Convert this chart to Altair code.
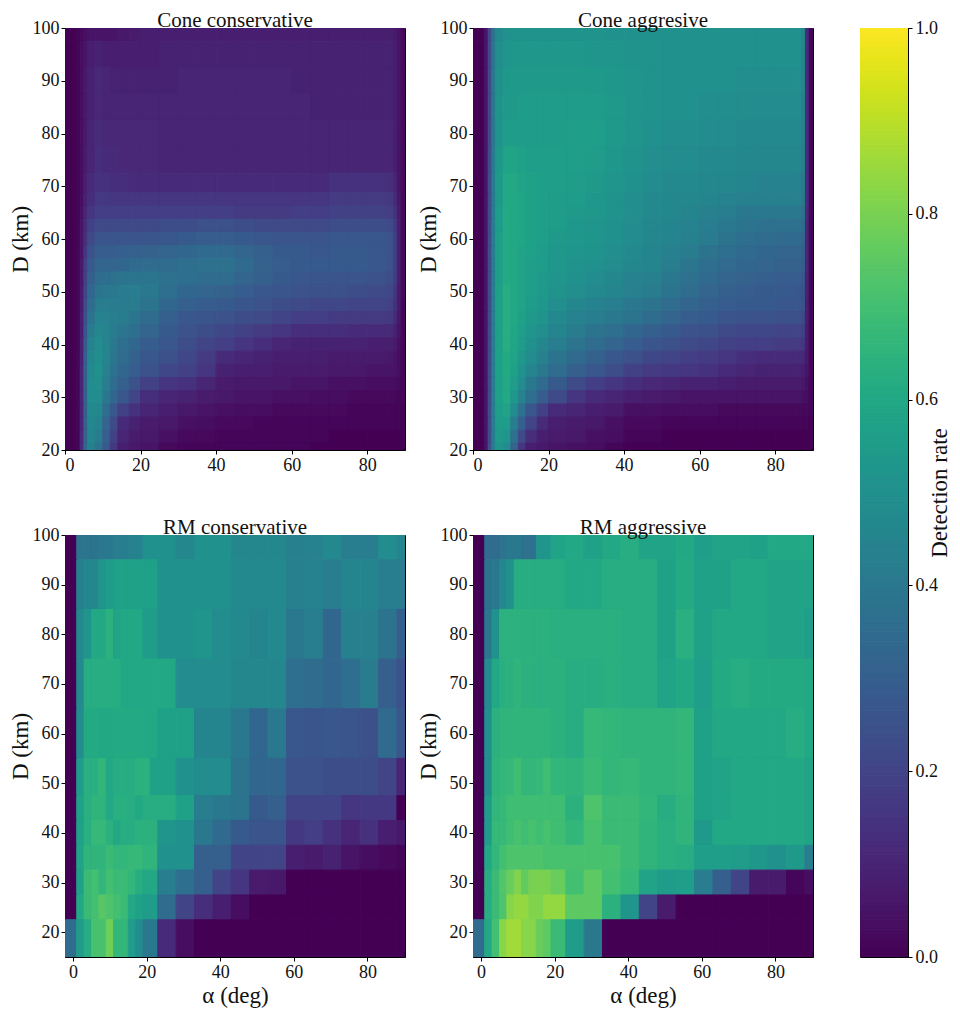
import altair as alt
import pandas as pd

FONT = "Liberation Serif"

# Cone panels: bin edges and values (top row is D = 100)
cone_a = [0,3,4,5,6,8,10,12,14,17,20,25,30,35,40,45,50,55,60,65,70,75,80,85,87,88,89,90]
cone_d = [100,97.5,92.5,87.5,82.5,77.5,72.5,68.75,66.25,63.75,61.25,58.75,56.25,53.75,51.25,48.75,46.25,
          43.75,41.25,38.75,36.25,33.75,31.25,28.75,26.25,23.75,21.25,20]

cone_cons = [
 [0,.01,.02,.04,.05,.05,.05,.05,.06,.07,.08,.08,.08,.08,.08,.08,.08,.08,.08,.08,.08,.08,.08,.08,.07,.05,.02],
 [0,.01,.03,.05,.08,.09,.08,.08,.08,.08,.08,.09,.09,.09,.09,.09,.09,.09,.09,.09,.09,.09,.09,.09,.08,.05,.02],
 [0,.01,.03,.06,.09,.11,.10,.09,.09,.09,.09,.09,.10,.10,.10,.10,.10,.10,.09,.09,.09,.09,.09,.09,.08,.05,.02],
 [0,.01,.03,.06,.09,.11,.10,.10,.10,.10,.10,.10,.10,.10,.10,.10,.10,.10,.10,.09,.09,.09,.09,.09,.08,.05,.02],
 [0,.01,.03,.06,.10,.12,.11,.11,.11,.11,.11,.10,.10,.10,.10,.10,.10,.10,.10,.10,.10,.10,.10,.10,.08,.05,.02],
 [0,.01,.03,.07,.10,.13,.12,.12,.11,.11,.11,.10,.10,.10,.10,.10,.10,.10,.10,.10,.10,.10,.10,.10,.08,.05,.02],
 [0,.01,.03,.08,.12,.14,.14,.13,.13,.12,.12,.12,.12,.12,.12,.12,.12,.12,.12,.12,.14,.14,.14,.13,.10,.05,.02],
 [0,.01,.03,.09,.13,.16,.16,.15,.15,.15,.15,.15,.15,.15,.15,.15,.15,.15,.15,.15,.17,.17,.17,.16,.12,.06,.02],
 [0,.01,.04,.10,.15,.18,.18,.18,.18,.18,.18,.18,.18,.18,.18,.17,.17,.17,.18,.18,.19,.19,.19,.18,.14,.07,.02],
 [0,.01,.05,.12,.19,.22,.22,.22,.22,.22,.22,.23,.23,.24,.24,.23,.22,.22,.22,.22,.23,.23,.23,.22,.16,.08,.02],
 [0,.01,.05,.13,.22,.26,.26,.26,.26,.26,.26,.27,.28,.29,.29,.28,.27,.26,.26,.26,.27,.27,.27,.25,.18,.08,.02],
 [0,.01,.05,.15,.25,.29,.29,.29,.30,.30,.31,.32,.33,.34,.34,.32,.30,.28,.28,.27,.28,.28,.27,.25,.18,.08,.02],
 [0,.01,.06,.18,.28,.32,.32,.32,.33,.34,.35,.35,.36,.37,.37,.34,.31,.29,.28,.28,.28,.28,.27,.25,.18,.08,.02],
 [0,.01,.06,.19,.30,.35,.36,.37,.38,.39,.39,.37,.36,.35,.35,.32,.30,.28,.27,.26,.26,.26,.25,.23,.17,.08,.02],
 [0,.01,.07,.20,.33,.38,.40,.40,.41,.42,.40,.36,.33,.32,.31,.29,.27,.26,.25,.24,.24,.23,.22,.21,.15,.07,.02],
 [0,.01,.07,.22,.35,.41,.42,.41,.41,.41,.38,.33,.30,.29,.28,.26,.25,.23,.22,.21,.21,.20,.20,.19,.14,.07,.01],
 [0,.01,.08,.24,.38,.44,.44,.42,.41,.39,.35,.30,.27,.26,.25,.23,.22,.20,.18,.18,.17,.17,.17,.16,.12,.06,.01],
 [0,.01,.08,.26,.41,.46,.45,.41,.39,.36,.32,.28,.25,.23,.21,.19,.17,.15,.13,.13,.13,.12,.12,.12,.09,.05,.01],
 [0,.01,.09,.28,.44,.48,.45,.40,.36,.33,.29,.27,.23,.20,.18,.15,.13,.10,.09,.09,.09,.09,.08,.08,.07,.04,.01],
 [0,.01,.09,.29,.46,.49,.45,.39,.35,.31,.27,.24,.21,.17,.12,.10,.09,.08,.08,.08,.07,.07,.07,.06,.05,.03,.01],
 [0,.01,.10,.30,.47,.50,.44,.37,.33,.29,.25,.21,.19,.15,.09,.08,.08,.07,.07,.07,.06,.06,.05,.05,.05,.03,.01],
 [0,.01,.10,.30,.48,.49,.42,.35,.30,.25,.19,.15,.14,.10,.07,.06,.06,.06,.05,.05,.04,.04,.03,.03,.03,.02,.01],
 [0,.01,.10,.30,.48,.48,.40,.33,.27,.20,.13,.10,.09,.07,.06,.05,.05,.04,.04,.03,.03,.02,.02,.02,.02,.01,.01],
 [0,.01,.10,.30,.47,.46,.36,.27,.19,.14,.10,.08,.06,.05,.04,.03,.03,.02,.02,.02,.02,.01,.01,.01,.01,.01,0],
 [0,.01,.10,.30,.46,.44,.32,.22,.12,.09,.07,.06,.04,.03,.02,.02,.01,.01,.01,.01,.01,.01,.01,.01,.01,.01,0],
 [0,.01,.11,.31,.45,.41,.30,.19,.10,.07,.06,.04,.02,.02,.01,.01,.01,.01,.01,.01,0,0,0,0,0,0,0],
 [0,.01,.12,.33,.43,.38,.28,.16,.08,.06,.05,.02,.01,.01,.01,.01,.01,.01,.01,0,0,0,0,0,0,0,0],
]

cone_aggr = [
 [0,.05,.22,.38,.47,.50,.51,.51,.51,.51,.51,.51,.51,.50,.50,.50,.50,.50,.50,.50,.50,.50,.50,.50,.46,.12,.01],
 [0,.05,.22,.39,.49,.52,.53,.53,.53,.53,.53,.53,.52,.52,.51,.51,.50,.50,.50,.50,.50,.50,.50,.50,.46,.12,.01],
 [0,.05,.22,.40,.50,.53,.54,.54,.54,.54,.54,.54,.54,.53,.52,.51,.50,.50,.50,.50,.49,.49,.49,.49,.45,.12,.01],
 [0,.05,.22,.40,.51,.54,.54,.55,.55,.55,.55,.55,.55,.54,.52,.51,.50,.50,.49,.49,.48,.48,.48,.48,.44,.12,.01],
 [0,.05,.22,.40,.51,.55,.55,.55,.55,.55,.55,.56,.56,.54,.52,.50,.49,.49,.48,.48,.47,.47,.47,.47,.44,.12,.01],
 [0,.05,.23,.41,.53,.58,.58,.57,.56,.56,.56,.56,.55,.53,.51,.49,.48,.48,.47,.47,.46,.46,.46,.46,.43,.12,.01],
 [0,.05,.23,.41,.54,.60,.60,.58,.57,.56,.56,.55,.54,.52,.50,.48,.47,.47,.46,.46,.45,.44,.44,.44,.41,.12,.01],
 [0,.05,.23,.41,.54,.60,.60,.59,.57,.56,.55,.55,.53,.51,.49,.47,.46,.46,.45,.44,.43,.43,.43,.43,.40,.12,.01],
 [0,.05,.23,.41,.55,.61,.60,.59,.57,.56,.55,.54,.53,.51,.49,.47,.46,.45,.43,.42,.40,.40,.40,.40,.37,.11,.01],
 [0,.05,.23,.42,.55,.61,.60,.59,.57,.56,.55,.53,.52,.50,.48,.46,.45,.44,.42,.40,.38,.37,.37,.37,.35,.10,.01],
 [0,.05,.23,.42,.56,.61,.60,.59,.57,.56,.54,.53,.52,.50,.48,.46,.45,.43,.41,.38,.36,.35,.34,.34,.32,.10,.01],
 [0,.05,.23,.42,.56,.61,.60,.58,.57,.55,.53,.52,.51,.49,.47,.45,.43,.41,.38,.36,.34,.33,.32,.32,.30,.10,.01],
 [0,.05,.23,.42,.56,.61,.60,.58,.56,.55,.53,.51,.50,.48,.46,.45,.42,.39,.36,.34,.33,.32,.31,.31,.29,.10,.01],
 [0,.05,.23,.42,.56,.61,.60,.58,.56,.54,.52,.50,.48,.46,.44,.43,.40,.37,.34,.32,.31,.30,.29,.29,.27,.09,.01],
 [0,.05,.23,.42,.57,.62,.60,.58,.56,.54,.51,.49,.47,.45,.43,.41,.38,.35,.32,.30,.29,.28,.28,.27,.25,.09,.01],
 [0,.05,.23,.42,.57,.62,.60,.58,.55,.53,.49,.46,.44,.42,.40,.38,.35,.32,.30,.29,.28,.28,.27,.27,.25,.08,.01],
 [0,.05,.23,.42,.57,.62,.60,.57,.54,.51,.47,.44,.42,.40,.38,.35,.32,.29,.28,.26,.25,.25,.24,.24,.22,.08,.01],
 [0,.05,.23,.42,.57,.62,.59,.56,.52,.49,.45,.41,.38,.36,.33,.30,.28,.25,.24,.22,.21,.21,.20,.20,.19,.07,.01],
 [0,.05,.23,.42,.57,.62,.59,.55,.50,.46,.42,.38,.35,.32,.29,.26,.24,.22,.21,.19,.18,.18,.17,.17,.16,.07,.01],
 [0,.05,.23,.42,.57,.61,.58,.53,.48,.43,.38,.34,.31,.27,.24,.21,.20,.18,.17,.15,.13,.12,.12,.12,.11,.06,.01],
 [0,.05,.23,.42,.57,.61,.57,.51,.45,.40,.35,.30,.27,.23,.19,.17,.16,.15,.14,.12,.10,.09,.09,.09,.08,.05,.01],
 [0,.05,.23,.42,.57,.60,.55,.48,.40,.34,.28,.22,.18,.15,.13,.11,.10,.09,.09,.08,.07,.07,.07,.07,.06,.04,.01],
 [0,.05,.23,.42,.57,.60,.53,.44,.36,.29,.22,.15,.12,.10,.08,.07,.06,.05,.05,.05,.05,.05,.05,.05,.04,.03,.01],
 [0,.05,.23,.42,.56,.58,.48,.37,.27,.19,.12,.10,.08,.07,.04,.04,.03,.03,.03,.02,.02,.02,.02,.02,.02,.02,.01],
 [0,.05,.23,.42,.55,.55,.42,.30,.20,.12,.08,.07,.06,.04,.02,.02,.01,.01,.01,.01,.01,.01,.01,.01,.01,.01,0],
 [0,.05,.23,.42,.54,.52,.37,.22,.13,.08,.07,.06,.04,.03,.01,.01,0,0,0,0,0,0,0,0,0,0,0],
 [0,.05,.24,.42,.52,.48,.32,.15,.08,.06,.05,.04,.03,.01,0,0,0,0,0,0,0,0,0,0,0,0,0],
]

# RM panels: bin edges and values (top row is D = 100)
rm_a = [-2.2,1,3,5,7,9,11,13,15,17,19,21,23,28,33,38,43,48,53,58,63,68,73,78,83,88,90.2]
rm_d = [100,95,85,75,65,55,47.5,42.5,37.5,32.5,27.5,22.5,15]

rm_cons = [
 [0,.38,.38,.38,.40,.40,.42,.42,.44,.44,.50,.50,.50,.46,.50,.50,.46,.46,.46,.43,.44,.47,.42,.42,.48,.45],
 [0,.43,.46,.46,.52,.55,.57,.57,.57,.57,.57,.57,.50,.50,.50,.50,.47,.47,.47,.43,.44,.42,.45,.45,.42,.42],
 [0,.47,.52,.60,.60,.64,.58,.60,.60,.60,.55,.55,.50,.50,.52,.48,.47,.45,.47,.40,.42,.33,.43,.43,.38,.30],
 [0,.47,.62,.62,.62,.62,.62,.60,.60,.60,.60,.60,.60,.48,.48,.48,.46,.46,.46,.36,.35,.33,.36,.41,.30,.25],
 [0,.48,.61,.61,.60,.60,.61,.61,.61,.61,.60,.60,.57,.57,.45,.45,.40,.33,.40,.27,.26,.27,.26,.24,.34,.27],
 [0,.55,.63,.63,.66,.60,.62,.62,.62,.64,.64,.57,.57,.50,.48,.48,.38,.33,.33,.25,.25,.23,.23,.23,.20,.10],
 [0,.57,.63,.65,.65,.60,.63,.63,.62,.60,.62,.62,.62,.57,.42,.40,.38,.28,.30,.20,.20,.20,.15,.16,.16,0],
 [0,.57,.63,.67,.67,.64,.60,.62,.62,.64,.64,.64,.52,.50,.40,.34,.28,.26,.26,.16,.18,.14,.10,.14,.08,.06],
 [0,.58,.65,.65,.65,.68,.66,.66,.67,.67,.65,.65,.50,.50,.30,.30,.20,.20,.20,.08,.07,.09,.05,.03,.02,.01],
 [0,.57,.68,.70,.66,.70,.68,.68,.66,.62,.60,.60,.42,.36,.30,.20,.15,.07,.06,0,0,0,0,0,0,0],
 [0,.60,.68,.70,.74,.72,.70,.68,.60,.57,.55,.55,.35,.20,.13,.08,.03,0,0,0,0,0,0,0,0,0],
 [.35,.55,.62,.71,.71,.78,.66,.66,.55,.48,.40,.40,.12,.03,0,0,0,0,0,0,0,0,0,0,0,0],
]

rm_aggr = [
 [0,.35,.35,.38,.40,.40,.37,.37,.52,.52,.58,.58,.60,.57,.60,.62,.58,.58,.60,.56,.58,.58,.57,.60,.60,.60],
 [0,.38,.40,.46,.50,.62,.62,.62,.62,.62,.62,.62,.60,.60,.62,.62,.62,.57,.61,.57,.57,.60,.60,.58,.58,.58],
 [0,.40,.50,.64,.64,.64,.64,.64,.64,.64,.63,.63,.63,.63,.63,.62,.62,.57,.63,.57,.60,.60,.60,.58,.58,.56],
 [0,.48,.60,.63,.64,.65,.64,.64,.63,.64,.64,.64,.62,.62,.63,.62,.62,.58,.60,.56,.61,.62,.61,.61,.61,.60],
 [0,.50,.64,.65,.65,.65,.65,.65,.65,.65,.64,.64,.62,.67,.66,.65,.65,.65,.66,.57,.60,.60,.60,.60,.62,.60],
 [0,.50,.65,.66,.67,.69,.66,.66,.67,.69,.66,.66,.65,.68,.66,.67,.65,.65,.66,.57,.58,.60,.60,.60,.60,.58],
 [0,.55,.66,.67,.69,.69,.69,.69,.69,.69,.69,.69,.64,.72,.68,.68,.66,.62,.65,.57,.58,.60,.60,.60,.60,.58],
 [0,.55,.67,.67,.69,.71,.69,.71,.69,.71,.69,.69,.66,.71,.68,.68,.65,.63,.65,.54,.60,.60,.60,.60,.60,.58],
 [0,.60,.66,.70,.72,.72,.72,.72,.72,.71,.71,.71,.71,.71,.71,.68,.65,.63,.62,.56,.56,.55,.53,.50,.54,.42],
 [0,.62,.68,.73,.77,.81,.76,.80,.80,.80,.77,.77,.70,.75,.70,.67,.58,.55,.56,.42,.30,.20,.07,.07,.01,.03],
 [0,.62,.68,.72,.82,.84,.84,.81,.81,.84,.84,.84,.75,.75,.64,.52,.20,.07,0,0,0,0,0,0,0,0],
 [.35,.60,.70,.82,.86,.86,.82,.82,.77,.75,.68,.68,.55,.40,0,0,0,0,0,0,0,0,0,0,0,0],
]

cbar_levels = [i / 200 for i in range(200)]
cbar_ticks = [0, 0.2, 0.4, 0.6, 0.8, 1.0]
d_ticks = [20, 30, 40, 50, 60, 70, 80, 90, 100]
a_ticks = [0, 20, 40, 60, 80]

VIR = alt.Scale(scheme="viridis", domain=[0, 1])


def table(a_edges, d_edges, rows):
    out = []
    for r, row in enumerate(rows):
        for c, v in enumerate(row):
            out.append({"a0": a_edges[c], "a1": a_edges[c + 1],
                        "d0": d_edges[r + 1], "d1": d_edges[r], "v": v})
    return pd.DataFrame(out)


def panel(a_edges, d_edges, rows, title, adom, ddom, xtitle):
    xax = alt.Axis(values=a_ticks, grid=False, title=xtitle, format="d", labelPadding=2, titlePadding=3)
    yax = alt.Axis(values=d_ticks, grid=False, title="D (km)", format="d", labelPadding=2, titlePadding=0)
    return (
        alt.Chart(table(a_edges, d_edges, rows), title=title)
        .mark_rect(strokeWidth=1, clip=True)
        .encode(
            x=alt.X("a0:Q", scale=alt.Scale(domain=adom, nice=False, zero=False), axis=xax),
            x2="a1:Q",
            y=alt.Y("d0:Q", scale=alt.Scale(domain=ddom, nice=False, zero=False), axis=yax),
            y2="d1:Q",
            fill=alt.Fill("v:Q", scale=VIR, legend=None),
            stroke=alt.Stroke("v:Q", scale=VIR, legend=None),
        )
        .properties(width=340, height=422)
    )


p1 = panel(cone_a, cone_d, cone_cons, "Cone conservative", [0, 90], [20, 100], None)
p2 = panel(cone_a, cone_d, cone_aggr, "Cone aggresive", [0, 90], [20, 100], None)
p3 = panel(rm_a, rm_d, rm_cons, "RM conservative", [-2.2, 90.2], [15, 100], "α (deg)")
p4 = panel(rm_a, rm_d, rm_aggr, "RM aggressive", [-2.2, 90.2], [15, 100], "α (deg)")

cbar = (
    alt.Chart(pd.DataFrame({"lo": cbar_levels, "hi": [x + 0.005 for x in cbar_levels]}))
    .mark_rect(strokeWidth=1, clip=True)
    .encode(
        y=alt.Y("lo:Q", scale=alt.Scale(domain=[0, 1], nice=False),
                axis=alt.Axis(orient="right", values=cbar_ticks, format=".1f", grid=False,
                              title="Detection rate", titleAngle=270, titleBaseline="bottom",
                              labelPadding=3, titlePadding=14)),
        y2="hi:Q",
        x=alt.value(0),
        x2=alt.value(48),
        fill=alt.Fill("lo:Q", scale=VIR, legend=None),
        stroke=alt.Stroke("lo:Q", scale=VIR, legend=None),
    )
    .properties(width=48, height=929)
)

grid = alt.vconcat(alt.hconcat(p1, p2, spacing=10), alt.hconcat(p3, p4, spacing=10), spacing=41)

chart = (
    alt.hconcat(grid, cbar, spacing=45)
    .properties(padding={"left": 0, "top": 1, "right": 0, "bottom": 0})
    .configure_view(stroke="#000000", strokeWidth=1)
    .configure_axis(
        labelFont=FONT, titleFont=FONT, labelFontSize=18, titleFontSize=23,
        labelColor="#111111", titleColor="#111111", titleFontWeight="normal",
        domainColor="#000000", tickColor="#000000", tickSize=4,
    )
    .configure_title(font=FONT, fontSize=21, fontWeight="normal", color="#111111", offset=-12)
)

chart.save("out.html", embed_options={"renderer": "svg", "actions": False})
